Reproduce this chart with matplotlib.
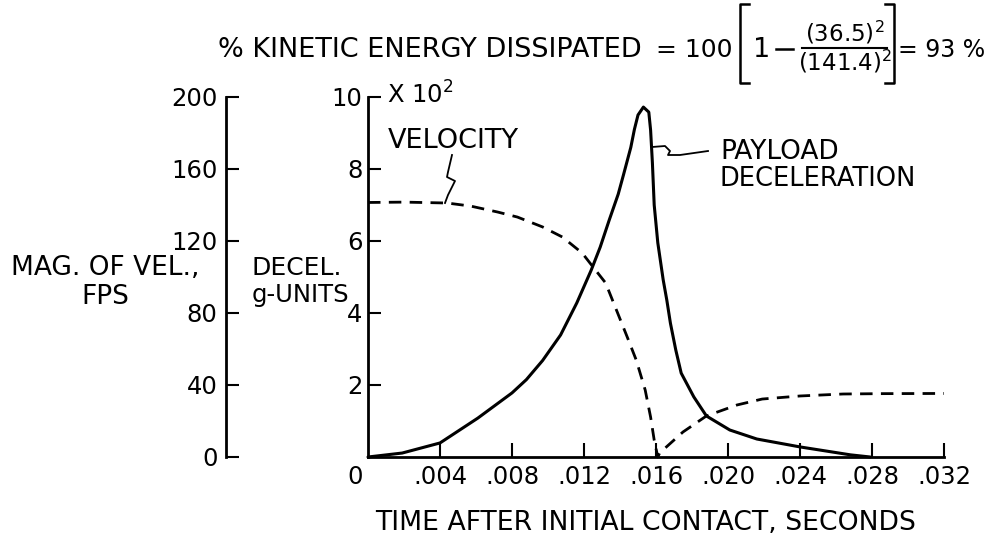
import matplotlib
matplotlib.use("Agg")
import matplotlib.pyplot as plt
from matplotlib.lines import Line2D
from matplotlib.transforms import ScaledTranslation

plt.rcParams['font.family'] = ['DejaVu Sans']
plt.rcParams['mathtext.fontset'] = 'dejavusans'

# ---------------- data ----------------
# time after initial contact (s) and magnitude of velocity (fps)
vel_time = [0.0, 0.0020, 0.0044, 0.0057, 0.0072, 0.0083, 0.0097, 0.0108, 0.0119,
            0.0125, 0.0132, 0.0138, 0.0144, 0.0149, 0.0154, 0.0157, 0.0159, 0.0161,
            0.0162, 0.0175, 0.0188, 0.0205, 0.0219, 0.0240, 0.0264, 0.0286, 0.0320]
vel_fps = [141.4, 141.6, 141.1, 139.4, 136.1, 133.3, 127.8, 122.2, 113.3,
           105.6, 96.7, 81.7, 66.7, 53.9, 37.2, 22.2, 9.4, 0.0,
           2.2, 13.9, 22.8, 28.9, 32.2, 33.9, 35.0, 35.2, 35.3]

# time (s) and payload deceleration (hundreds of g)
dec_time = [0.0, 0.0019, 0.0040, 0.0061, 0.0080, 0.0088, 0.0097, 0.0107, 0.0116,
            0.0124, 0.0129, 0.0134, 0.0139, 0.0142, 0.0146, 0.0148, 0.0150, 0.0153,
            0.0156, 0.0157, 0.0158, 0.0159, 0.0161, 0.0164, 0.0166, 0.0168, 0.0171,
            0.0174, 0.0181, 0.0188, 0.0201, 0.0216, 0.0240, 0.0268, 0.0279]
dec_g100 = [0.0, 0.11, 0.39, 1.08, 1.78, 2.15, 2.68, 3.39, 4.28,
            5.19, 5.83, 6.58, 7.30, 7.85, 8.60, 9.10, 9.50, 9.72,
            9.58, 9.08, 8.17, 7.00, 5.95, 4.92, 4.36, 3.72, 2.97,
            2.33, 1.67, 1.14, 0.75, 0.50, 0.28, 0.06, 0.0]

x_ticks = [0.0, 0.004, 0.008, 0.012, 0.016, 0.020, 0.024, 0.028, 0.032]
x_tick_labels = ["0", ".004", ".008", ".012", ".016", ".020", ".024", ".028", ".032"]
dec_ticks = [2, 4, 6, 8, 10]
dec_tick_labels = ["2", "4", "6", "8", "10"]
vel_ticks = [0, 40, 80, 120, 160, 200]
vel_tick_labels = ["0", "40", "80", "120", "160", "200"]

# ---------------- figure ----------------
W, H = 994, 539
fig = plt.figure(figsize=(W / 100, H / 100), dpi=100)
fig.patch.set_facecolor("white")


def P(x, y):
    return (x / W, 1 - y / H)


X0, X1, Y0, Y1 = 368, 944, 457, 97
ax = fig.add_axes([X0 / W, (H - Y0) / H, (X1 - X0) / W, (Y0 - Y1) / H])
ax.set_xlim(0, 0.032)
ax.set_ylim(0, 10)
for s in ("top", "right"):
    ax.spines[s].set_visible(False)
for s in ("left", "bottom"):
    ax.spines[s].set_linewidth(2.0)
    ax.spines[s].set_capstyle("projecting")

ax.set_xticks(x_ticks)
ax.set_xticklabels(x_tick_labels)
ax.set_yticks(dec_ticks)
ax.set_yticklabels(dec_tick_labels)
ax.tick_params(axis="x", direction="in", length=10, width=1.5, pad=6, labelsize=17.5)
ax.tick_params(axis="y", direction="in", length=9.5, width=1.5, pad=4, labelsize=17.5)
t0 = ax.xaxis.get_major_ticks()[0]
t0.tick1line.set_visible(False)
t0.label1.set_transform(t0.label1.get_transform() +
                        ScaledTranslation(-13 / 100, 0, fig.dpi_scale_trans))

# deceleration curve
ax.plot(dec_time, dec_g100, color="black", lw=2.2, solid_capstyle="round",
        solid_joinstyle="round", clip_on=False)

# velocity axis
ax_v = ax.twinx()
ax_v.set_ylim(0, 200)
ax_v.patch.set_visible(False)
for s in ("top", "right", "bottom"):
    ax_v.spines[s].set_visible(False)
ax_v.spines["left"].set_visible(True)
ax_v.spines["left"].set_linewidth(2.0)
ax_v.spines["left"].set_position(("axes", (226 - X0) / (X1 - X0)))
ax_v.yaxis.set_ticks_position("left")
ax_v.set_yticks(vel_ticks)
ax_v.set_yticklabels(vel_tick_labels)
ax_v.tick_params(axis="y", direction="in", length=9.5, width=1.5, pad=6, labelsize=17.5)

ax_v.plot(vel_time, vel_fps, color="black", lw=2.0, linestyle=(0, (4.5, 3)),
          clip_on=False)

# ---------------- annotation leaders ----------------
def leader(pts, lw=1.3):
    xs = [P(x, y)[0] for x, y in pts]
    ys = [P(x, y)[1] for x, y in pts]
    fig.add_artist(Line2D(xs, ys, transform=fig.transFigure, color="black",
                          lw=lw, solid_joinstyle="round"))


leader([(452, 155), (448, 172), (447, 177), (455, 181), (448, 195), (445, 203)])
leader([(652, 147), (665, 146), (670, 151), (668, 155), (680, 155), (708, 151)])

fs = 19
fig.text(*P(388, 141), "VELOCITY", fontsize=19.5, ha="left", va="center")
fig.text(*P(720, 152), "PAYLOAD", fontsize=fs, ha="left", va="center")
fig.text(*P(720, 179), "DECELERATION", fontsize=18.5, ha="left", va="center")
fig.text(*P(387, 104), r"X 10$^2$", fontsize=17.5, ha="left", va="baseline")

fig.text(*P(105, 268), "MAG. OF VEL.,", fontsize=fs, ha="center", va="center")
fig.text(*P(105, 297), "FPS", fontsize=fs, ha="center", va="center")
fig.text(*P(252, 268), "DECEL.", fontsize=18, ha="left", va="center")
fig.text(*P(252, 295), "g-UNITS", fontsize=17.5, ha="left", va="center")

fig.text(*P(646, 523), "TIME AFTER INITIAL CONTACT, SECONDS", fontsize=19.2,
         ha="center", va="center")

# ---------------- title with formula ----------------
tfs = 19.5
fig.text(*P(218, 57), "% KINETIC ENERGY DISSIPATED", fontsize=tfs,
         ha="left", va="baseline")
fig.text(*P(732, 57), "= 100", fontsize=18, ha="right", va="baseline")
lb = [(749, 4), (740, 4), (740, 83), (749, 83)]
rb = [(885, 4), (894, 4), (894, 83), (885, 83)]
for br in (lb, rb):
    leader(br, lw=1.8)
fig.text(*P(762, 57), "1", fontsize=tfs, ha="center", va="baseline")
leader([(776, 49), (793, 49)], lw=1.8)
fig.text(*P(845, 41), r"(36.5)$^2$", fontsize=16.5, ha="center", va="baseline")
leader([(802, 48), (887, 48)], lw=1.5)
fig.text(*P(845, 70), r"(141.4)$^2$", fontsize=16.5, ha="center", va="baseline")
fig.text(*P(898, 57), "= 93 %", fontsize=17, ha="left", va="baseline")

fig.savefig("out.png", dpi=100, facecolor="white")
